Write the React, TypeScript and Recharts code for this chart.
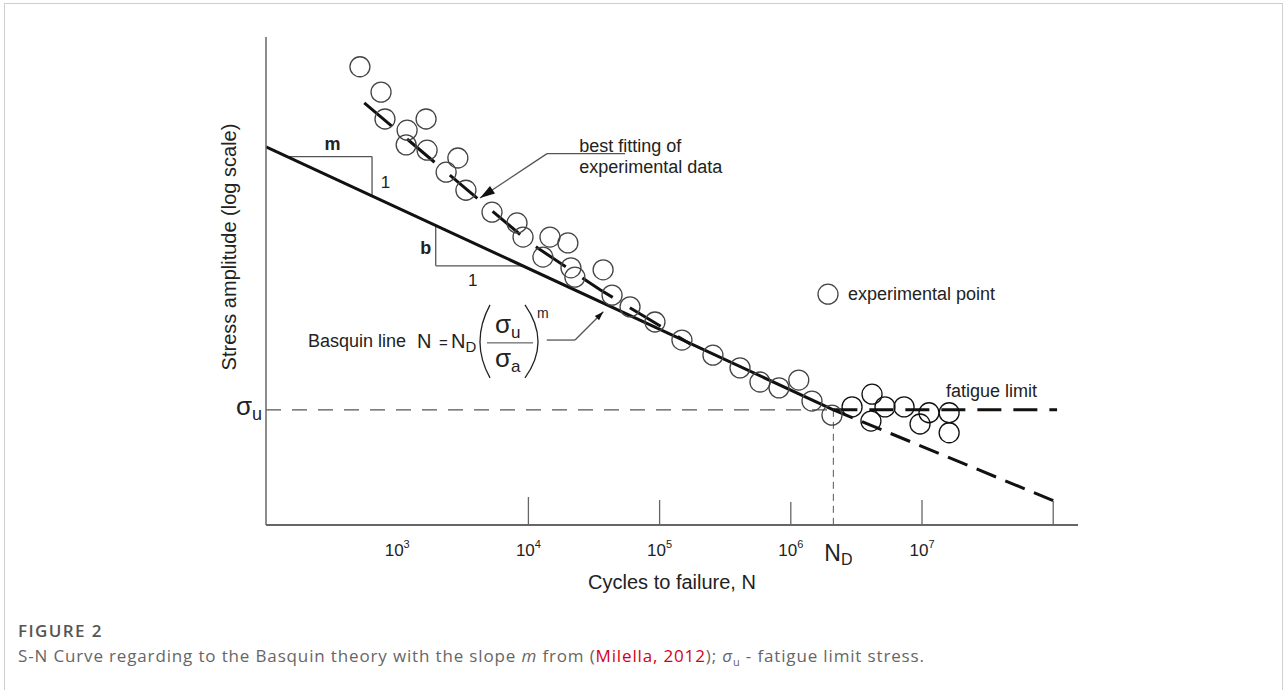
import React from "react";
import {
  ComposedChart,
  XAxis,
  YAxis,
  Line,
  Scatter,
  ReferenceLine,
  ReferenceDot,
  Label,
} from "recharts";

const FONT = '"Liberation Sans", Arial, Helvetica, sans-serif';
const INK = "#111";
const AXIS = "#666";

// N = cycles to failure, s = stress amplitude on an arbitrary log scale (0 = x axis, 100 = top)
const N_D = 2.11e6;
const SIGMA_U = 23.6;

const xTicks = [1e3, 1e4, 1e5, 1e6, N_D, 1e7, 1e8];
const xTickExp = ["3", "4", "5", "6", "", "7", ""];
const xTickRise = [0, 28, 25, 23, 0, 25, 24];

const basquinLine = [
  { N: 100, s: 77.5 },
  { N: N_D, s: SIGMA_U },
];
const basquinExtension = [
  { N: N_D, s: SIGMA_U },
  { N: 1e8, s: 5.0 },
];
const bestFitLine = [
  { N: 561, s: 86.5 },
  { N: 10300, s: 57.8 },
  { N: 35200, s: 48.2 },
  { N: 171000, s: 37.1 },
];
const fatigueLimitLine = [
  { N: N_D, s: SIGMA_U },
  { N: 1.07e8, s: SIGMA_U },
];

const finitePoints = [
  { N: 520, s: 93.9 }, { N: 753, s: 88.7 }, { N: 807, s: 83.2 }, { N: 1190, s: 80.9 },
  { N: 1660, s: 83.2 }, { N: 1170, s: 77.9 }, { N: 1690, s: 76.8 }, { N: 2900, s: 75.2 },
  { N: 2360, s: 72.3 }, { N: 3340, s: 68.6 }, { N: 5280, s: 64.1 }, { N: 8190, s: 61.9 },
  { N: 9100, s: 59.0 }, { N: 14600, s: 59.0 }, { N: 20000, s: 57.8 }, { N: 12900, s: 54.9 },
  { N: 21100, s: 52.7 }, { N: 22600, s: 50.8 }, { N: 37100, s: 52.3 }, { N: 43400, s: 47.1 },
  { N: 59500, s: 44.7 }, { N: 92200, s: 41.6 }, { N: 148000, s: 37.9 }, { N: 255000, s: 34.8 },
  { N: 410000, s: 32.2 }, { N: 582000, s: 29.3 }, { N: 813000, s: 28.1 }, { N: 1.15e6, s: 29.7 },
  { N: 1.45e6, s: 25.4 }, { N: 2.06e6, s: 22.5 },
];
const limitPoints = [
  { N: 2.93e6, s: 24.2 }, { N: 4.16e6, s: 26.8 }, { N: 4.08e6, s: 21.3 }, { N: 5.22e6, s: 24.2 },
  { N: 7.3e6, s: 24.2 }, { N: 1.13e7, s: 23.0 }, { N: 9.66e6, s: 20.7 }, { N: 1.61e7, s: 23.0 },
  { N: 1.61e7, s: 18.9 },
];

// slope triangles drawn against the Basquin line
const S_TOP = basquinLine[0].s;
const K = (S_TOP - SIGMA_U) / (Math.log10(N_D) - 2);
const basquinS = (n: number) => S_TOP - K * (Math.log10(n) - 2);
const basquinN = (s: number) => Math.pow(10, 2 + (S_TOP - s) / K);
const mTriangle = { N: 643, s: 75.5 };
const bTriangle = { N: 1966, s: 53.1 };

const circle = (stroke: string) => (p: any) => (
  <circle cx={p.cx} cy={p.cy} r={10} fill="none" stroke={stroke} strokeWidth={1.3} />
);

const arrowHead = (angle: number, len: number, wid: number) => (p: any) => (
  <polygon
    points={`0,0 ${-len},${-wid / 2} ${-len},${wid / 2}`}
    transform={`translate(${p.cx},${p.cy}) rotate(${angle})`}
    fill={INK}
  />
);

const textShape =
  (content: React.ReactNode, size = 18, anchor: "start" | "middle" = "start", weight = 400) =>
  (p: any) => (
    <text x={p.cx} y={p.cy} fontSize={size} fontFamily={FONT} fontWeight={weight} textAnchor={anchor} fill="#222">
      {content}
    </text>
  );

function CycleTick({ x, y, payload }: any) {
  const i = xTicks.indexOf(payload.value);
  const rise = xTickRise[i] ?? 0;
  return (
    <g fontFamily={FONT} fill="#222">
      {rise > 0 && <line x1={x} x2={x} y1={y} y2={y - rise} stroke={AXIS} strokeWidth={1.3} />}
      {payload.value === N_D ? (
        <text x={x + 5} y={y + 36} textAnchor="middle" fontSize={23}>
          N<tspan fontSize={16} dy={4}>D</tspan>
        </text>
      ) : xTickExp[i] ? (
        <text x={x} y={y + 31} textAnchor="middle" fontSize={17}>
          10<tspan fontSize={11} dy={-8}>{xTickExp[i]}</tspan>
        </text>
      ) : null}
    </g>
  );
}

function SigmaTick({ x, y }: any) {
  return (
    <text x={x - 4} y={y + 5} textAnchor="end" fontSize={26} fontFamily={FONT} fill="#222">
      σ<tspan fontSize={18} dy={5}>u</tspan>
    </text>
  );
}

function Formula(p: any) {
  const x = p.cx;
  const y = p.cy;
  return (
    <g fontFamily={FONT} fill="#222">
      <text x={x} y={y} fontSize={18}>Basquin line</text>
      <text x={x + 109} y={y + 1} fontSize={20}>N</text>
      <text x={x + 131} y={y + 1} fontSize={15}>=</text>
      <text x={x + 143} y={y + 1} fontSize={20}>
        N<tspan fontSize={15} dy={4}>D</tspan>
      </text>
      <path d={`M${x + 182},${y - 42} Q${x + 162},${y - 5} ${x + 182},${y + 31}`} fill="none" stroke="#222" strokeWidth={1.3} />
      <path d={`M${x + 217},${y - 42} Q${x + 243},${y - 5} ${x + 217},${y + 31}`} fill="none" stroke="#222" strokeWidth={1.3} />
      <text x={x + 187} y={y - 14} fontSize={26}>
        σ<tspan fontSize={17} dy={5}>u</tspan>
      </text>
      <line x1={x + 179} x2={x + 225} y1={y - 4} y2={y - 4} stroke="#444" strokeWidth={1} />
      <text x={x + 187} y={y + 20} fontSize={26}>
        σ<tspan fontSize={17} dy={5}>a</tspan>
      </text>
      <text x={x + 229} y={y - 29} fontSize={14}>m</text>
    </g>
  );
}

function LegendItem(p: any) {
  return (
    <g fontFamily={FONT}>
      <circle cx={p.cx} cy={p.cy} r={10} fill="none" stroke="#444" strokeWidth={1.3} />
      <text x={p.cx + 20} y={p.cy + 6} fontSize={18} fill="#222">experimental point</text>
    </g>
  );
}

const XTitle = ({ viewBox }: any) => (
  <text x={viewBox.x + viewBox.width / 2} y={viewBox.y + 64} textAnchor="middle" fontSize={20} fontFamily={FONT} fill="#222">
    Cycles to failure, N
  </text>
);

const YTitle = ({ viewBox }: any) => {
  const cx = viewBox.x + 30;
  const cy = viewBox.y + 210;
  return (
    <text x={cx} y={cy} transform={`rotate(-90, ${cx}, ${cy})`} textAnchor="middle" fontSize={20} fontFamily={FONT} fill="#222">
      Stress amplitude (log scale)
    </text>
  );
};

const guide = { stroke: "#555", strokeWidth: 1.3, ifOverflow: "visible" as const };

export default function App() {
  return (
    <div style={{ position: "absolute", left: 0, top: 0, width: 1287, height: 690, background: "#fff", overflow: "hidden" }}>
      <div style={{ position: "absolute", left: 4, top: 3, width: 1277, height: 720, border: "1px solid #cfcfcf" }} />
      <div style={{ position: "absolute", left: 0, top: 0 }}>
        <ComposedChart width={1287} height={610} margin={{ top: 37, right: 209, bottom: 25, left: 206 }}>
          <XAxis
            dataKey="N"
            type="number"
            scale="log"
            domain={[100, 1.545e8]}
            allowDataOverflow
            ticks={xTicks}
            interval={0}
            tick={<CycleTick />}
            tickLine={false}
            tickSize={0}
            tickMargin={0}
            height={60}
            axisLine={{ stroke: AXIS, strokeWidth: 2 }}
          >
            <Label content={<XTitle />} />
          </XAxis>
          <YAxis
            dataKey="s"
            type="number"
            domain={[0, 100]}
            allowDataOverflow
            ticks={[SIGMA_U]}
            interval={0}
            tick={<SigmaTick />}
            tickLine={false}
            tickSize={0}
            tickMargin={0}
            width={60}
            axisLine={{ stroke: AXIS, strokeWidth: 1.5 }}
          >
            <Label content={<YTitle />} />
          </YAxis>

          {/* fatigue limit and N_D guides */}
          <ReferenceLine segment={[{ x: 100, y: SIGMA_U }, { x: N_D, y: SIGMA_U }]} stroke="#555" strokeWidth={1.2} strokeDasharray="15 11" ifOverflow="visible" />
          <ReferenceLine segment={[{ x: N_D, y: SIGMA_U }, { x: N_D, y: 0 }]} stroke="#555" strokeWidth={1} strokeDasharray="7 5" ifOverflow="visible" />

          {/* slope triangles */}
          <ReferenceLine segment={[{ x: basquinN(mTriangle.s), y: mTriangle.s }, { x: mTriangle.N, y: mTriangle.s }]} {...guide} />
          <ReferenceLine segment={[{ x: mTriangle.N, y: mTriangle.s }, { x: mTriangle.N, y: basquinS(mTriangle.N) }]} {...guide} />
          <ReferenceLine segment={[{ x: bTriangle.N, y: basquinS(bTriangle.N) }, { x: bTriangle.N, y: bTriangle.s }]} {...guide} />
          <ReferenceLine segment={[{ x: bTriangle.N, y: bTriangle.s }, { x: basquinN(bTriangle.s), y: bTriangle.s }]} {...guide} />

          {/* leader lines */}
          <ReferenceLine segment={[{ x: 13865, y: 76.1 }, { x: 54500, y: 76.1 }]} {...guide} />
          <ReferenceLine segment={[{ x: 13865, y: 76.1 }, { x: 4277, y: 67.0 }]} {...guide} />
          <ReferenceLine segment={[{ x: 13800, y: 37.9 }, { x: 22660, y: 37.9 }]} {...guide} />
          <ReferenceLine segment={[{ x: 22660, y: 37.9 }, { x: 37230, y: 43.7 }]} {...guide} />

          <Scatter data={finitePoints} shape={circle("#444")} isAnimationActive={false} />
          <Scatter data={limitPoints} shape={circle(INK)} isAnimationActive={false} />

          <Line data={basquinLine} dataKey="s" stroke={INK} strokeWidth={3} dot={false} isAnimationActive={false} />
          <Line data={basquinExtension} dataKey="s" stroke={INK} strokeWidth={3} strokeDasharray="21 10" dot={false} isAnimationActive={false} />
          <Line data={bestFitLine} dataKey="s" stroke={INK} strokeWidth={3} strokeDasharray="36 20" dot={false} isAnimationActive={false} />
          <Line data={fatigueLimitLine} dataKey="s" stroke={INK} strokeWidth={3} strokeDasharray="24 12" dot={false} isAnimationActive={false} />

          {/* arrow heads */}
          <ReferenceDot x={4277} y={67.0} r={0} ifOverflow="visible" shape={arrowHead(146.4, 15, 9)} />
          <ReferenceDot x={37230} y={43.7} r={0} ifOverflow="visible" shape={arrowHead(-45, 9, 6)} />

          {/* text annotations */}
          <ReferenceDot x={321} y={76.8} r={0} ifOverflow="visible" shape={textShape("m", 18, "middle", 700)} />
          <ReferenceDot x={815} y={69.0} r={0} ifOverflow="visible" shape={textShape("1", 17, "middle")} />
          <ReferenceDot x={1652} y={55.5} r={0} ifOverflow="visible" shape={textShape("b", 18, "middle", 700)} />
          <ReferenceDot x={3763} y={49.0} r={0} ifOverflow="visible" shape={textShape("1", 17, "middle")} />
          <ReferenceDot x={24430} y={76.5} r={0} ifOverflow="visible" shape={textShape("best fitting of")} />
          <ReferenceDot x={24430} y={72.1} r={0} ifOverflow="visible" shape={textShape("experimental data")} />
          <ReferenceDot x={1.524e7} y={26.3} r={0} ifOverflow="visible" shape={textShape("fatigue limit")} />
          <ReferenceDot x={1.921e6} y={47.3} r={0} ifOverflow="visible" shape={LegendItem} />
          <ReferenceDot x={209} y={36.5} r={0} ifOverflow="visible" shape={Formula} />
        </ComposedChart>
      </div>
      <div
        style={{
          position: "absolute", left: 18, top: 622, fontFamily: '"Open Sans", "Noto Sans", sans-serif',
          fontSize: 17, lineHeight: "18px", fontWeight: 600, color: "#555", letterSpacing: 1.4,
        }}
      >
        FIGURE 2
      </div>
      <div
        style={{
          position: "absolute", left: 18, top: 647, fontFamily: '"Open Sans", "Noto Sans", sans-serif',
          fontSize: 17, lineHeight: "18px", color: "#666", whiteSpace: "nowrap", letterSpacing: 0.85,
        }}
      >
        S-N Curve regarding to the Basquin theory with the slope <i>m</i> from (
        <span style={{ color: "#d0021b" }}>Milella, 2012</span>); <i>σ</i>
        <sub style={{ fontSize: 11 }}>u</sub> - fatigue limit stress.
      </div>
    </div>
  );
}
